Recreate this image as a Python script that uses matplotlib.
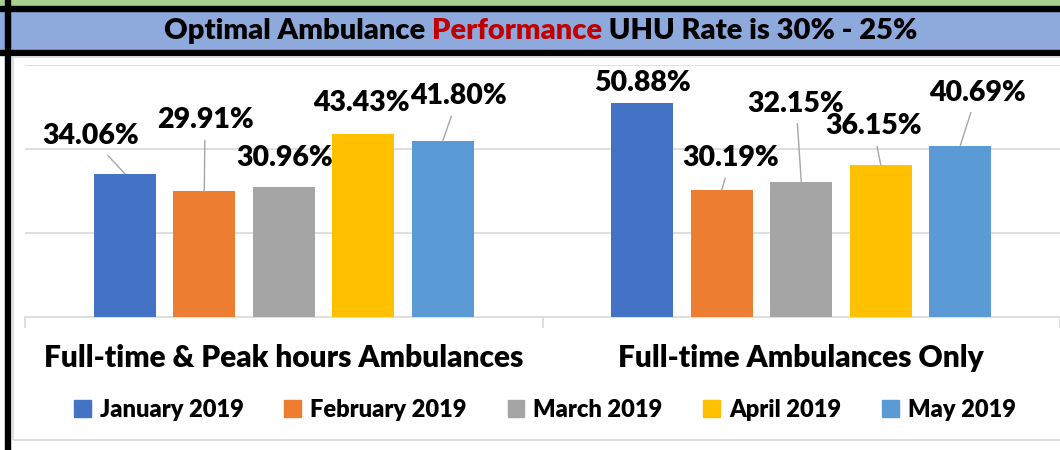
import numpy as np
import matplotlib
matplotlib.use("Agg")
from matplotlib import pyplot as plt
from matplotlib.patches import Rectangle, Patch

plt.rcParams['font.family'] = ['Lato', 'DejaVu Sans']

# data
categories = ['Full-time & Peak hours Ambulances', 'Full-time Ambulances Only']
months = ['January 2019', 'February 2019', 'March 2019', 'April 2019', 'May 2019']
jan = [34.06, 50.88]
feb = [29.91, 30.19]
mar = [30.96, 32.15]
apr = [43.43, 36.15]
may = [41.80, 40.69]
series = [jan, feb, mar, apr, may]
colors = ['#4472C4', '#ED7D31', '#A5A5A5', '#FFC000', '#5B9BD5']

# where the labels sit (data coords), and whether a leader line is drawn
label_pos = [
    [(-0.374, 42.9), (0.694, 55.7)],
    [(-0.152, 46.7), (0.864, 37.7)],
    [(0.002, 37.9), (0.990, 50.7)],
    [(0.151, 50.9), (1.139, 45.3)],
    [(0.337, 52.4), (1.340, 53.3)],
]
leader = [
    [True, False],
    [True, True],
    [False, True],
    [False, True],
    [True, True],
]

W, H = 1060, 450
fig = plt.figure(figsize=(W / 100, H / 100), dpi=100)
WT = 'heavy'

def fx(px):
    return px / W

def fy(py):
    return 1 - py / H

# header band
fig.patches.append(Rectangle((0, fy(6)), 1, 6 / H, transform=fig.transFigure,
                             color='#A9D08E', zorder=0))
fig.patches.append(Rectangle((0, fy(11)), 1, 5 / H, transform=fig.transFigure,
                             color='black', zorder=1))
fig.patches.append(Rectangle((0, fy(50)), 1, 39 / H, transform=fig.transFigure,
                             color='#8EA9DB', zorder=0))
fig.patches.append(Rectangle((0, fy(55)), 1, 5 / H, transform=fig.transFigure,
                             color='black', zorder=1))
# left black bar
fig.patches.append(Rectangle((fx(5), 0), 5 / W, 1, transform=fig.transFigure,
                             color='black', zorder=2))
# chart area border
fig.patches.append(Rectangle((fx(13), fy(440)), 1.0, (440 - 57) / H,
                             transform=fig.transFigure, fill=False,
                             edgecolor='#D9D9D9', lw=1.2, zorder=1))

# title, one word in red
tsize = 21
parts = [('Optimal Ambulance ', 'black'), ('Performance', '#C00000'),
         (' UHU Rate is 30% - 25%', 'black')]
r = fig.canvas.get_renderer()
tmp = [fig.text(0, 0, p, fontsize=tsize, fontweight=WT) for p, c in parts]
widths = [t.get_window_extent(r).width for t in tmp]
for t in tmp:
    t.remove()
x0 = 541 - sum(widths) / 2
for (p, c), w in zip(parts, widths):
    fig.text(fx(x0), fy(31), p, fontsize=tsize, fontweight=WT, color=c,
             va='center', ha='left')
    x0 += w

# axes
ax = fig.add_axes([fx(25), fy(317), 1 - fx(25), (317 - 64.5) / H])
ax.set_xlim(-0.5, 1.5)
ax.set_ylim(0, 60)

x = np.arange(len(categories))
bw = 0.12
step = 0.1536
for i, vals in enumerate(series):
    pos = x + (i - 2) * step
    ax.bar(pos, vals, width=bw, color=colors[i], zorder=3)
    for j, v in enumerate(vals):
        lx, ly = label_pos[i][j]
        if leader[i][j]:
            ax.annotate(f'{v:.2f}%', xy=(pos[j], v), xytext=(lx, ly),
                        ha='center', va='center', fontsize=20.5, fontweight=WT,
                        arrowprops=dict(arrowstyle='-', color='#A6A6A6', lw=1,
                                        shrinkA=3, shrinkB=0),
                        zorder=4)
        else:
            ax.text(lx, ly, f'{v:.2f}%', ha='center', va='center',
                    fontsize=20.5, fontweight=WT, zorder=4)

ax.set_yticks([20, 40, 60])
ax.yaxis.grid(True, color='#D9D9D9', lw=1.2)
ax.set_axisbelow(True)
ax.tick_params(axis='y', length=0, labelleft=False)
ax.set_xticks([-0.5, 0.5, 1.5])
ax.set_xticklabels([])
ax.tick_params(axis='x', length=8, color='#D9D9D9', width=1.2)
for s in ['top', 'right', 'left']:
    ax.spines[s].set_visible(False)
ax.spines['bottom'].set_color('#D9D9D9')
ax.spines['bottom'].set_linewidth(1.2)
for j, c in enumerate(categories):
    ax.text(x[j], -0.163, c, transform=ax.get_xaxis_transform(), ha='center',
            va='center', fontsize=21.5, fontweight=WT)

handles = [Patch(color=c) for c in colors]
leg = fig.legend(handles, months, loc='center', bbox_to_anchor=(fx(545), fy(410)),
                 ncol=5, frameon=False, prop={'size': 17, 'weight': WT},
                 handlelength=0.7, handleheight=0.7, handletextpad=0.4,
                 columnspacing=1.72)

fig.savefig('out.png', dpi=100, facecolor='white')
